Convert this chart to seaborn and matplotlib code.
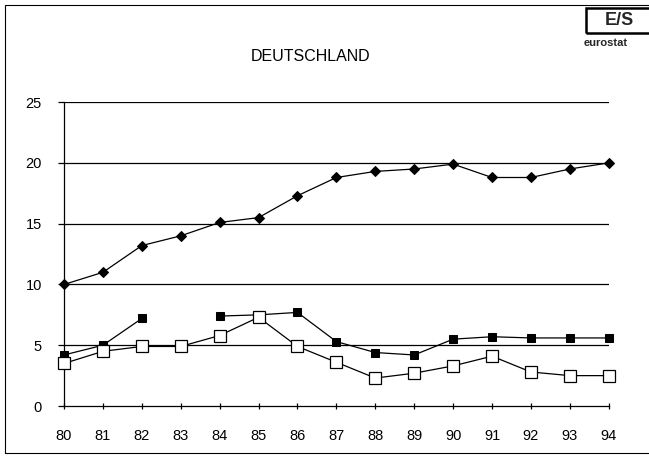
import matplotlib

matplotlib.use("Agg")
import matplotlib.pyplot as plt
import numpy as np
import pandas as pd
import seaborn as sns
from matplotlib.patches import Rectangle

years = list(range(80, 95))
year_labels = [str(y) for y in years]

# series
diamond_vals = [10.0, 11.0, 13.2, 14.0, 15.1, 15.5, 17.3, 18.8, 19.3, 19.5, 19.9, 18.8, 18.8, 19.5, 20.0]
filled_sq_vals = [4.2, 5.0, 7.2, np.nan, 7.4, 7.5, 7.7, 5.3, 4.4, 4.2, 5.5, 5.7, 5.6, 5.6, 5.6]
open_sq_vals = [3.5, 4.5, 4.9, 4.9, 5.8, 7.3, 4.9, 3.6, 2.3, 2.7, 3.3, 4.1, 2.8, 2.5, 2.5]

y_ticks = [0, 5, 10, 15, 20, 25]
title = "DEUTSCHLAND"

sns.set_theme(style="white")
plt.rcParams["font.family"] = ["Liberation Sans", "DejaVu Sans"]

fig = plt.figure(figsize=(6.49, 4.58), dpi=100)
ax = fig.add_axes([0.0986, 0.1135, 0.8394, 0.6635])

# filled-square series has a gap at 83, split it into segments
filled = pd.DataFrame({"year": years, "value": filled_sq_vals})
filled["seg"] = filled["value"].isna().cumsum()
filled = filled.dropna()

diamond = pd.DataFrame({"year": years, "value": diamond_vals})
opened = pd.DataFrame({"year": years, "value": open_sq_vals})

line_kw = dict(color="black", linewidth=0.9, clip_on=False)
sns.lineplot(data=filled, x="year", y="value", units="seg", estimator=None,
             marker="s", markersize=6, markerfacecolor="black",
             markeredgecolor="black", ax=ax, zorder=3, **line_kw)
sns.lineplot(data=opened, x="year", y="value", marker="s", markersize=8,
             markerfacecolor="white", markeredgecolor="black", markeredgewidth=0.9,
             ax=ax, zorder=4, **line_kw)
sns.lineplot(data=diamond, x="year", y="value", marker="D", markersize=5,
             markerfacecolor="black", markeredgecolor="black", ax=ax, zorder=4, **line_kw)

for v in y_ticks[1:]:
    ax.axhline(v, color="black", linewidth=0.9, zorder=1)

ax.set_xlim(80, 94)
ax.set_ylim(0, 25)
ax.set_xticks(years)
ax.set_xticklabels(year_labels)
ax.set_yticks(y_ticks)
ax.set_xlabel("")
ax.set_ylabel("")
ax.tick_params(axis="x", direction="inout", length=5, width=0.9, labelsize=10.5, pad=14,
               bottom=True, colors="black")
ax.tick_params(axis="y", direction="out", length=4, width=0.9, labelsize=10.5, pad=12,
               left=True, colors="black")
for name in ["top", "right"]:
    ax.spines[name].set_visible(False)
for name in ["left", "bottom"]:
    ax.spines[name].set_color("black")
    ax.spines[name].set_linewidth(0.9)

fig.text(0.478, 0.877, title, ha="center", va="center", fontsize=11.5, color="black")

# outer frame
fig.patches.append(Rectangle((0.007, 0.012), 1.1, 0.976, transform=fig.transFigure,
                             fill=False, edgecolor="black", linewidth=0.8))

# eurostat logo box
fig.patches.append(Rectangle((0.903, 0.928), 0.12, 0.055, transform=fig.transFigure,
                             fill=False, edgecolor="black", linewidth=1.8))
fig.text(0.955, 0.955, "E/S", ha="center", va="center", fontsize=13, fontweight="bold")
fig.text(0.900, 0.906, "eurostat", ha="left", va="center", fontsize=8, fontweight="bold")

fig.savefig("out.png", dpi=100)
